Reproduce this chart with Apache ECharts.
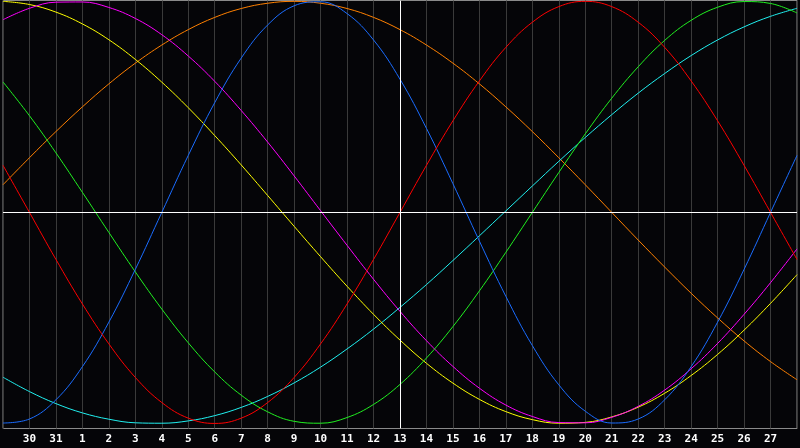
<!DOCTYPE html>
<html>
<head>
<meta charset="utf-8">
<script src="https://cdn.jsdelivr.net/npm/echarts@6/dist/echarts.min.js"></script>
<style>
html,body{margin:0;padding:0;background:#050508;}
#chart{width:800px;height:448px;}
</style>
</head>
<body>
<div id="chart"></div>
<script>
// Days shown (previous month 29..31, then 1..28)
const days = ['29','30','31','1','2','3','4','5','6','7','8','9','10','11','12','13','14','15','16','17','18','19','20','21','22','23','24','25','26','27','28'];
// Tick labels shown under the chart (edge days unlabeled)
const tickLabels = ['','30','31','1','2','3','4','5','6','7','8','9','10','11','12','13','14','15','16','17','18','19','20','21','22','23','24','25','26','27',''];
const todayLabel = '13';

// Curve values in percent, one per day
const red = [22.3,0,-22.3,-43.4,-62.3,-78.2,-90.1,-97.5,-100,-97.5,-90.1,-78.2,-62.3,-43.4,-22.3,0,22.3,43.4,62.3,78.2,90.1,97.5,100,97.5,90.1,78.2,62.3,43.4,22.3,0,-22.3];
const blue = [-99.8,-97.9,-88.8,-73.1,-52.0,-27.0,0,27.0,52.0,73.1,88.8,97.9,99.8,94.2,81.7,63.1,39.8,13.6,-13.6,-39.8,-63.1,-81.7,-94.2,-99.8,-97.9,-88.8,-73.1,-52.0,-27.0,0,27.0];
const green = [61.8,45.8,28.2,9.5,-9.5,-28.2,-45.8,-61.8,-75.6,-86.6,-94.5,-99.0,-99.9,-97.2,-91.0,-81.5,-69.0,-54.1,-37.2,-18.9,0,18.9,37.2,54.1,69.0,81.5,91.0,97.2,99.9,99.0,94.5];
const orange = [13.1,25.9,38.3,50,60.9,70.7,79.3,86.6,92.4,96.6,99.1,100,99.1,96.6,92.4,86.6,79.3,70.7,60.9,50,38.3,25.9,13.1,0,-13.1,-25.9,-38.3,-50,-60.9,-70.7,-79.3];
const cyan = [-78.1,-84.9,-90.6,-95.0,-98.0,-99.7,-99.9,-98.8,-96.3,-92.4,-87.2,-80.8,-73.3,-64.7,-55.3,-45.0,-34.2,-22.8,-11.1,0.7,12.5,24.2,35.5,46.3,56.5,65.8,74.3,81.7,87.9,92.9,96.7];
const magenta = [91.3,96.7,99.6,99.7,97.1,91.9,84.2,74.1,62.1,48.3,33.3,17.3,0.8,-15.6,-31.7,-46.9,-60.8,-73.0,-83.3,-91.3,-96.7,-99.6,-99.7,-97.1,-91.9,-84.2,-74.1,-62.1,-48.3,-33.3,-17.3];
const yellow = [100.0,98.5,94.9,89.3,81.8,72.5,61.7,49.6,36.4,22.5,8.0,-6.6,-21.0,-35.0,-48.3,-60.5,-71.5,-80.9,-88.6,-94.4,-98.2,-99.9,-99.5,-96.9,-92.3,-85.7,-77.3,-67.3,-55.8,-43.1,-29.5];

const seriesList = [
  {name:'orange', data:orange, color:'#ff8000'},
  {name:'cyan', data:cyan, color:'#20f0f0'},
  {name:'yellow', data:yellow, color:'#ffff00'},
  {name:'magenta', data:magenta, color:'#ff00ff'},
  {name:'green', data:green, color:'#20f020'},
  {name:'blue', data:blue, color:'#1a6cff'},
  {name:'red', data:red, color:'#ff0000'}
];

const chart = echarts.init(document.getElementById('chart'), null, {renderer:'canvas'});
const series = seriesList.map(s => ({
  name: s.name,
  type: 'line',
  data: s.data,
  smooth: 0.4,
  symbol: 'none',
  lineStyle: {color: s.color, width: 1},
  itemStyle: {color: s.color},
  z: 3
}));
series.push({
  type: 'line',
  data: [],
  silent: true,
  markLine: {
    silent: true,
    symbol: ['none','none'],
    label: {show: false},
    lineStyle: {color: '#ffffff', width: 1, type: 'solid'},
    data: [{xAxis: todayLabel}, {yAxis: 0}]
  },
  z: 2
});

chart.setOption({
  animation: false,
  backgroundColor: '#050508',
  grid: {left: 0.5, right: 0, top: 0.5, bottom: 19.5, show: true, borderColor: '#8a8a8a', borderWidth: 1, backgroundColor: 'transparent'},
  xAxis: {
    type: 'category',
    data: days,
    boundaryGap: false,
    axisLine: {show: false},
    axisTick: {show: false},
    splitLine: {show: true, lineStyle: {color: '#3a3a3a', width: 1}},
    axisLabel: {
      interval: 0,
      color: '#ffffff',
      fontWeight: 'bold',
      fontSize: 11,
      fontFamily: 'DejaVu Sans Mono',
      margin: 5,
      formatter: (v, i) => tickLabels[i]
    }
  },
  yAxis: {
    type: 'value',
    min: -102.4,
    max: 100.4,
    axisLine: {show: false},
    axisTick: {show: false},
    axisLabel: {show: false},
    splitLine: {show: false}
  },
  series: series
});
</script>
</body>
</html>
